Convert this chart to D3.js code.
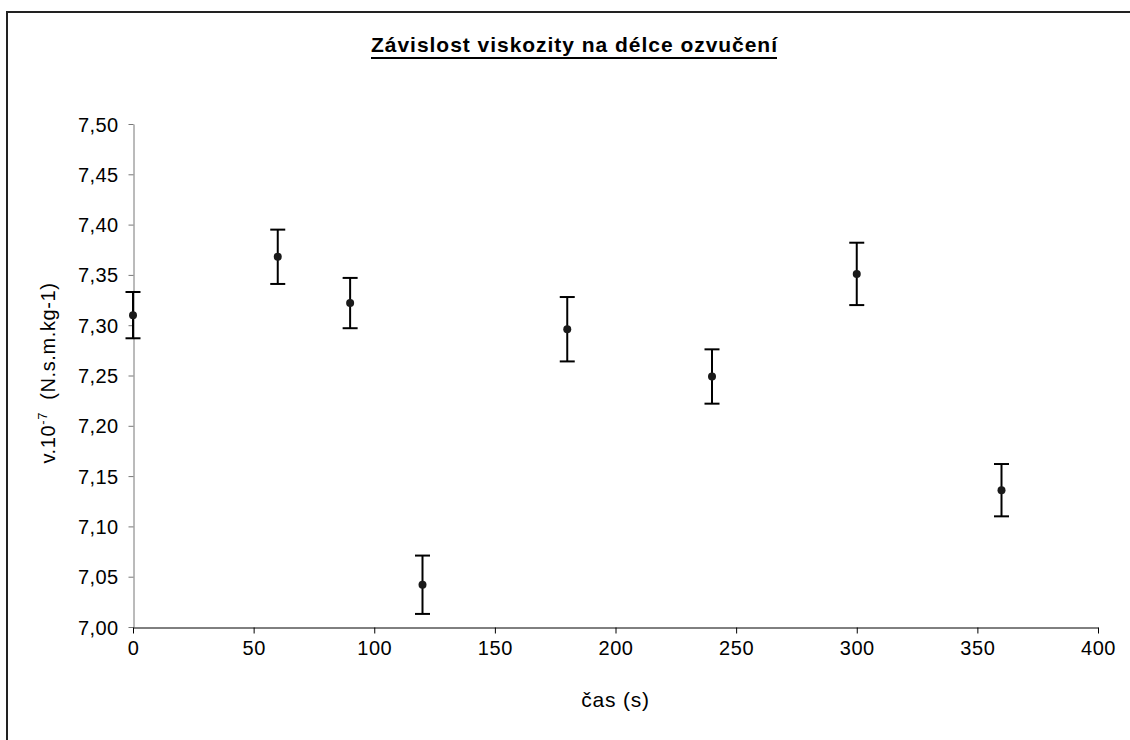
<!DOCTYPE html>
<html>
<head>
<meta charset="utf-8">
<script src="https://cdn.jsdelivr.net/npm/d3@7"></script>
<style>
  html, body { margin: 0; padding: 0; background: #fff; }
  svg { display: block; font-family: "Liberation Sans", Arial, sans-serif; }
</style>
</head>
<body>
<svg id="chart" width="1130" height="740"></svg>
<script>
// ---- data ----
const times = [0, 60, 90, 120, 180, 240, 300, 360];
const viscosity = [7.310, 7.368, 7.322, 7.042, 7.296, 7.249, 7.351, 7.136];
const errors = [0.023, 0.027, 0.025, 0.029, 0.032, 0.027, 0.031, 0.026];
const xTicks = [0, 50, 100, 150, 200, 250, 300, 350, 400];
const yTicks = [7.00, 7.05, 7.10, 7.15, 7.20, 7.25, 7.30, 7.35, 7.40, 7.45, 7.50];
const titleText = "Závislost viskozity na délce ozvučení";
const xLabel = "čas (s)";

const svg = d3.select("#chart");
const W = 1130, H = 740;
const m = { left: 133, right: 1098, top: 124, bottom: 627 };

// outer frame (continues past the bottom/right edge)
svg.append("rect")
  .attr("x", 7).attr("y", 12)
  .attr("width", W + 20).attr("height", H + 20)
  .attr("fill", "#fff").attr("stroke", "#222").attr("stroke-width", 2);

const x = d3.scaleLinear().domain([0, 400]).range([m.left, m.right]);
const y = d3.scaleLinear().domain([7.0, 7.5]).range([m.bottom, m.top]);

const fmt = d => d.toFixed(2).replace(".", ",");

// y axis
const yAxis = svg.append("g")
  .attr("transform", `translate(${m.left + 0.5},0)`)
  .call(d3.axisLeft(y).tickValues(yTicks).tickFormat(fmt).tickSize(5).tickPadding(10).tickSizeOuter(0));
yAxis.select(".domain").attr("stroke", "#777");
yAxis.selectAll(".tick line").attr("stroke", "#777");
yAxis.selectAll("text").attr("font-size", 20).attr("fill", "#000")
  .attr("letter-spacing", 0.4)
  .attr("font-family", "'Liberation Sans', Arial, sans-serif").attr("dy", "0.35em");

// x axis
const xAxis = svg.append("g")
  .attr("transform", `translate(0,${m.bottom + 0.5})`)
  .call(d3.axisBottom(x).tickValues(xTicks).tickFormat(d => d).tickSize(6).tickPadding(7).tickSizeOuter(0));
xAxis.select(".domain").attr("stroke", "#000");
xAxis.selectAll(".tick line").attr("stroke", "#000");
xAxis.selectAll("text").attr("font-size", 20).attr("fill", "#000")
  .attr("letter-spacing", 0.6)
  .attr("font-family", "'Liberation Sans', Arial, sans-serif");

// error bars
const pts = times.map((t, i) => ({ t, v: viscosity[i], e: errors[i] }));
const eb = svg.append("g").attr("stroke", "#000").attr("stroke-width", 2);
eb.selectAll("line.v").data(pts).join("line")
  .attr("x1", d => x(d.t)).attr("x2", d => x(d.t))
  .attr("y1", d => y(d.v + d.e)).attr("y2", d => y(d.v - d.e));
eb.selectAll("line.top").data(pts).join("line")
  .attr("x1", d => x(d.t) - 7.5).attr("x2", d => x(d.t) + 7.5)
  .attr("y1", d => y(d.v + d.e)).attr("y2", d => y(d.v + d.e));
eb.selectAll("line.bot").data(pts).join("line")
  .attr("x1", d => x(d.t) - 7.5).attr("x2", d => x(d.t) + 7.5)
  .attr("y1", d => y(d.v - d.e)).attr("y2", d => y(d.v - d.e));

// points
svg.append("g").selectAll("circle").data(pts).join("circle")
  .attr("cx", d => x(d.t)).attr("cy", d => y(d.v))
  .attr("r", 4).attr("fill", "#1a1a1a");

// title
const title = svg.append("text")
  .attr("x", 574).attr("y", 52)
  .attr("text-anchor", "middle")
  .attr("font-size", 21).attr("font-weight", "bold")
  .attr("textLength", 406).attr("lengthAdjust", "spacing")
  .attr("fill", "#000")
  .text(titleText);
svg.append("line")
  .attr("x1", 574 - 203).attr("x2", 574 + 203)
  .attr("y1", 58).attr("y2", 58)
  .attr("stroke", "#000").attr("stroke-width", 2);

// x label
svg.append("text")
  .attr("x", (m.left + m.right) / 2).attr("y", 707)
  .attr("text-anchor", "middle")
  .attr("font-size", 21).attr("letter-spacing", 0.8).attr("fill", "#000")
  .text(xLabel);

// y label
const yl = svg.append("text")
  .attr("transform", `translate(55,373) rotate(-90)`)
  .attr("text-anchor", "middle")
  .attr("font-size", 20).attr("letter-spacing", 0.6).attr("fill", "#000");
yl.append("tspan").text("v.10");
yl.append("tspan").attr("dy", -8).attr("font-size", 13).text("-7");
yl.append("tspan").attr("dy", 8).text("\u00a0\u00a0(N.s.m.kg-1)");
</script>
</body>
</html>
